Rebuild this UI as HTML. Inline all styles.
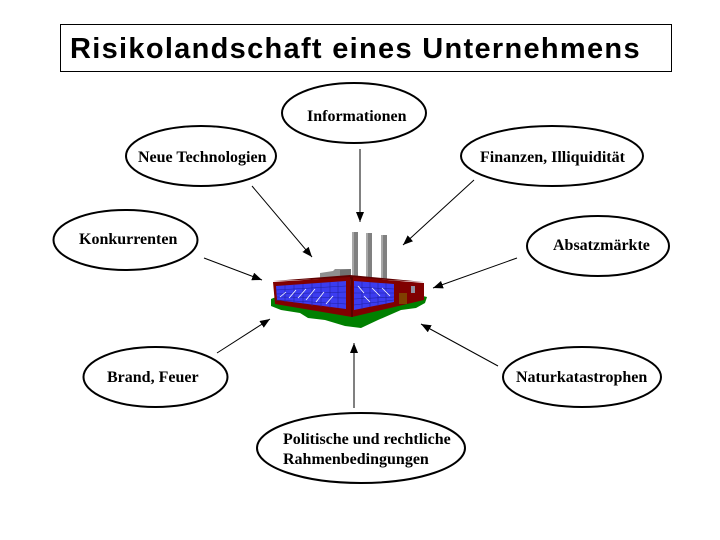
<!DOCTYPE html>
<html>
<head>
<meta charset="utf-8">
<style>
html,body{margin:0;padding:0;background:#fff;}
svg{display:block;}
.t{font-family:"Liberation Serif","DejaVu Serif",serif;font-weight:bold;font-size:16px;fill:#000;}
</style>
</head>
<body>
<svg width="720" height="540" viewBox="0 0 720 540" xmlns="http://www.w3.org/2000/svg">
<defs>
<marker id="ah" viewBox="0 0 10 8" refX="10" refY="4" markerWidth="10" markerHeight="8" markerUnits="userSpaceOnUse" orient="auto">
<path d="M0,0 L10,4 L0,8 Z" fill="#000"/>
</marker>
</defs>
<rect width="720" height="540" fill="#fff"/>

<!-- Title -->
<rect x="60.5" y="24.5" width="611" height="47" fill="#fff" stroke="#000" stroke-width="1"/>
<text x="70" y="58" font-family="'Liberation Sans',Arial,sans-serif" font-size="29" font-weight="bold" letter-spacing="1.3" fill="#000">Risikolandschaft eines Unternehmens</text>

<!-- Ellipses -->
<g fill="#fff" stroke="#000" stroke-width="2">
<ellipse cx="354" cy="113" rx="72" ry="30"/>
<ellipse cx="201" cy="156" rx="75" ry="30"/>
<ellipse cx="552" cy="156" rx="91" ry="30"/>
<ellipse cx="125.5" cy="240" rx="72" ry="30"/>
<ellipse cx="598" cy="246" rx="71" ry="30"/>
<ellipse cx="155.5" cy="377" rx="72" ry="30"/>
<ellipse cx="582" cy="377" rx="79" ry="30"/>
<ellipse cx="361" cy="448" rx="104" ry="35"/>
</g>

<!-- Labels -->
<text class="t" x="307" y="121">Informationen</text>
<text class="t" x="138" y="162">Neue Technologien</text>
<text class="t" x="480" y="162">Finanzen, Illiquidität</text>
<text class="t" x="79" y="244">Konkurrenten</text>
<text class="t" x="553" y="250">Absatzmärkte</text>
<text class="t" x="107" y="382">Brand, Feuer</text>
<text class="t" x="516" y="382">Naturkatastrophen</text>
<text class="t" x="283" y="444">Politische und rechtliche</text>
<text class="t" x="283" y="464">Rahmenbedingungen</text>

<!-- Arrows -->
<g stroke="#000" stroke-width="1" fill="none" marker-end="url(#ah)">
<line x1="360" y1="149" x2="360" y2="222"/>
<line x1="252" y1="186" x2="312" y2="257"/>
<line x1="474" y1="180" x2="403" y2="245"/>
<line x1="204" y1="258" x2="262" y2="280"/>
<line x1="517" y1="258" x2="433" y2="288"/>
<line x1="217" y1="353" x2="270" y2="319"/>
<line x1="354" y1="408" x2="354" y2="343"/>
<line x1="498" y1="366" x2="421" y2="324"/>
</g>

<!-- Factory -->
<g>
<!-- green base -->
<polygon fill="#008000" points="271,299 276,297 350,312 423,296 427,297 425,303 416,308 401,310 378,320 361,328 345,326 325,320 308,318 300,313 281,310 271,306"/>
<!-- chimneys -->
<rect x="352" y="232" width="6" height="46" fill="#808080"/>
<rect x="352" y="232" width="2" height="46" fill="#a8a8a8"/>
<rect x="366" y="233" width="6" height="45" fill="#808080"/>
<rect x="366" y="233" width="2" height="45" fill="#a8a8a8"/>
<rect x="381" y="235" width="6" height="44" fill="#808080"/>
<rect x="381" y="235" width="2" height="44" fill="#a8a8a8"/>
<!-- gray roof block -->
<polygon fill="#909090" points="320,273 333,271 335,269 351,269 351,279 320,279"/>
<polygon fill="#707070" points="340,270 351,269 351,279 340,279"/>
<!-- roof -->
<polygon fill="#600000" points="273,281 350,275 424,282 350,278"/>
<!-- left wall -->
<polygon fill="#800000" points="273,282 350,277 352,317 275,304"/>
<!-- right wall -->
<polygon fill="#800000" points="351,277 424,283 424,300 352,317"/>
<polygon fill="#5a0000" points="350,277 353,277 353,317 351,317"/>
<!-- left window -->
<polygon fill="#3c3cf0" points="276,286 346,281 346,309 277,300"/>
<g stroke="#2020a0" stroke-width="0.6">
<line x1="276" y1="290" x2="346" y2="286"/>
<line x1="276" y1="294" x2="346" y2="292"/>
<line x1="277" y1="297" x2="346" y2="298"/>
<line x1="276" y1="300" x2="346" y2="304"/>
<line x1="285" y1="285" x2="285" y2="302"/>
<line x1="294" y1="285" x2="294" y2="303"/>
<line x1="303" y1="284" x2="303" y2="304"/>
<line x1="312" y1="283" x2="312" y2="306"/>
<line x1="321" y1="283" x2="321" y2="307"/>
<line x1="330" y1="282" x2="330" y2="308"/>
<line x1="338" y1="282" x2="338" y2="308"/>
</g>
<g stroke="#ffffff" stroke-width="0.8">
<line x1="280" y1="297" x2="286" y2="292"/>
<line x1="289" y1="298" x2="296" y2="290"/>
<line x1="298" y1="298" x2="306" y2="289"/>
<line x1="306" y1="300" x2="315" y2="289"/>
<line x1="316" y1="302" x2="324" y2="292"/>
<line x1="326" y1="304" x2="333" y2="296"/>
</g>
<!-- right window -->
<polygon fill="#3c3cf0" points="354,281 394,284 394,302 354,310"/>
<g stroke="#2020a0" stroke-width="0.6">
<line x1="354" y1="287" x2="394" y2="289"/>
<line x1="354" y1="293" x2="394" y2="293"/>
<line x1="354" y1="299" x2="394" y2="297"/>
<line x1="354" y1="305" x2="394" y2="300"/>
<line x1="362" y1="282" x2="362" y2="309"/>
<line x1="370" y1="282" x2="370" y2="307"/>
<line x1="378" y1="283" x2="378" y2="306"/>
<line x1="386" y1="283" x2="386" y2="304"/>
</g>
<g stroke="#ffffff" stroke-width="0.8">
<line x1="358" y1="286" x2="364" y2="293"/>
<line x1="364" y1="296" x2="370" y2="302"/>
<line x1="372" y1="288" x2="380" y2="296"/>
<line x1="382" y1="288" x2="390" y2="296"/>
</g>
<!-- door -->
<rect x="399" y="293" width="8" height="11" fill="#804000"/>
<!-- small window -->
<rect x="411" y="286" width="4" height="7" fill="#9090a0"/>
</g>
</svg>
</body>
</html>
